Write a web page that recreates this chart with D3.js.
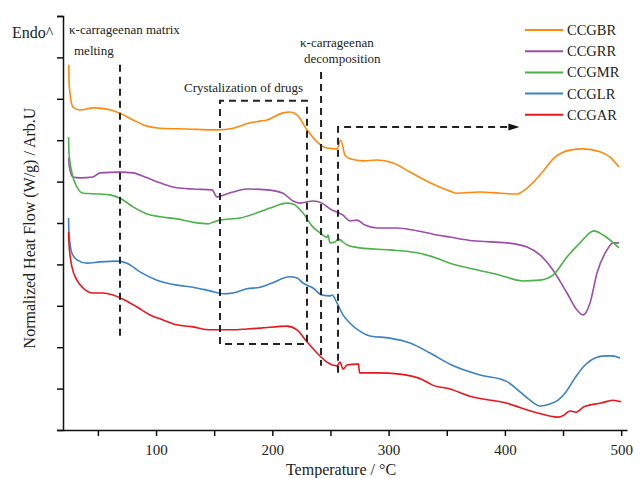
<!DOCTYPE html>
<html>
<head>
<meta charset="utf-8">
<script src="https://cdn.jsdelivr.net/npm/d3@7"></script>
<style>
  body { margin: 0; background: #fff; }
  svg { display: block; }
  text { font-family: "Liberation Serif", "Times New Roman", serif; fill: #222; }
</style>
</head>
<body>
<div id="chart"></div>
<script>
// series names for the legend (top to bottom)
var seriesNames = ["CCGBR", "CCGRR", "CCGMR", "CCGLR", "CCGAR"];

// [temperature °C, normalized heat flow (arb.)]
var ccgbr = [[25.0,8.82],[25.3,8.33],[28.6,7.80],[34.6,7.73],[45.8,7.78],[57.8,7.75],[68.2,7.66],[80.2,7.49],[92.2,7.34],[103.4,7.29],[126.6,7.27],[152.4,7.25],[166.2,7.29],[180.8,7.42],[189.4,7.46],[195.4,7.49],[209.2,7.66],[215.2,7.68],[221.2,7.61],[229.8,7.25],[238.4,6.96],[247.0,6.81],[255.6,6.79],[258.8,7.00],[262.5,6.64],[266.8,6.55],[278.0,6.50],[290.0,6.52],[303.8,6.45],[318.4,6.23],[335.6,5.97],[352.8,5.77],[358.8,5.72],[378.6,5.75],[395.8,5.72],[410.4,5.70],[415.6,5.77],[430.2,6.16],[443.1,6.59],[456.0,6.76],[467.2,6.79],[481.8,6.72],[490.4,6.59],[498.1,6.35]];

var ccgrr = [[25.0,6.59],[25.3,6.38],[28.6,6.11],[34.6,6.09],[45.8,6.11],[51.8,6.21],[69.0,6.23],[80.2,6.21],[92.2,6.09],[103.4,5.97],[118.0,5.85],[131.8,5.82],[148.1,5.80],[152.4,5.63],[155.0,5.65],[166.2,5.75],[178.2,5.82],[195.4,5.80],[209.2,5.72],[217.8,5.53],[223.8,5.48],[235.0,5.53],[242.7,5.48],[249.6,5.34],[260.8,5.19],[266.8,5.05],[272.8,5.07],[279.7,4.95],[290.0,4.88],[307.2,4.88],[321.0,4.83],[338.2,4.73],[352.8,4.66],[372.6,4.57],[401.8,4.52],[419.0,4.42],[430.2,4.23],[441.4,3.86],[453.4,3.31],[462.0,2.90],[467.2,2.78],[473.2,3.07],[479.2,3.79],[487.8,4.35],[493.0,4.52],[498.1,4.52]];

var ccgmr = [[24.8,7.08],[25.1,6.72],[27.7,6.21],[32.0,5.87],[37.2,5.72],[51.8,5.70],[60.4,5.68],[69.0,5.60],[80.2,5.39],[92.2,5.22],[103.4,5.15],[118.0,5.10],[131.8,5.02],[144.7,4.98],[149.0,5.02],[155.0,5.07],[172.2,5.12],[189.4,5.27],[198.0,5.36],[212.6,5.48],[217.8,5.46],[226.4,5.24],[235.0,4.90],[241.0,4.76],[247.0,4.66],[247.9,4.71],[249.6,4.52],[253.9,4.54],[256.5,4.61],[264.2,4.47],[275.4,4.40],[301.2,4.35],[324.4,4.28],[341.6,4.15],[352.8,4.03],[372.6,3.89],[395.8,3.74],[415.6,3.60],[430.2,3.62],[441.4,3.74],[453.4,4.18],[464.6,4.52],[476.6,4.81],[484.4,4.71],[498.1,4.40]];

var ccglr = [[24.8,5.12],[25.1,4.76],[27.7,4.27],[32.0,4.11],[40.6,4.03],[51.8,4.06],[66.4,4.08],[75.0,4.03],[86.2,3.82],[100.8,3.62],[118.0,3.50],[131.8,3.45],[146.4,3.36],[157.6,3.29],[166.2,3.31],[178.2,3.41],[189.4,3.45],[198.0,3.53],[215.2,3.70],[221.2,3.67],[226.4,3.55],[235.0,3.43],[242.7,3.26],[249.6,3.24],[251.3,3.26],[255.6,3.07],[260.8,2.78],[266.8,2.58],[278.0,2.34],[284.0,2.27],[301.2,2.22],[318.4,2.10],[335.6,1.86],[352.8,1.59],[378.6,1.33],[401.0,1.18],[413.0,0.92],[421.6,0.72],[430.2,0.58],[438.8,0.63],[445.7,0.72],[452.5,0.92],[460.3,1.26],[468.9,1.57],[477.5,1.74],[486.1,1.79],[492.1,1.79],[499.0,1.74]];

var ccgar = [[24.8,4.78],[25.1,4.52],[27.7,3.94],[32.0,3.62],[37.2,3.43],[45.8,3.31],[54.4,3.31],[63.0,3.26],[71.6,3.16],[83.6,2.97],[94.8,2.78],[106.0,2.66],[118.0,2.54],[131.8,2.49],[146.4,2.42],[166.2,2.42],[178.2,2.44],[189.4,2.46],[212.6,2.51],[221.2,2.42],[229.8,2.13],[238.4,1.86],[247.0,1.64],[255.6,1.55],[258.2,1.64],[260.8,1.47],[264.2,1.57],[272.8,1.59],[274.1,1.59],[275.0,1.38],[290.0,1.38],[309.8,1.35],[329.6,1.21],[337.3,1.09],[352.8,0.99],[369.1,0.82],[401.0,0.65],[425.9,0.43],[445.7,0.31],[450.8,0.36],[456.0,0.46],[461.1,0.43],[468.0,0.56],[482.6,0.65],[492.9,0.72],[499.8,0.68]];

var seriesData = [ccgbr, ccgrr, ccgmr, ccglr, ccgar];

// x tick values (labels only on the hundreds)
var xTickValues = [50, 100, 150, 200, 250, 300, 350, 400, 450, 500];
var yTickValues = [0, 1, 2, 3, 4, 5, 6, 7, 8, 9, 10];

// annotation guides in data units
var meltLine = [[69.0, 8.82], [69.0, 2.22]];
var crystalBox = [[155.0, 7.95], [229.8, 2.08]];
var decompLine = [[241.9, 8.65], [241.9, 1.55]];
var arrowPath = [[256.5, 1.38], [256.5, 7.32], [403.0, 7.32]];

var colors = ["#ff8a0f", "#9a4ea8", "#4bb249", "#3b82c2", "#e8171d"];

var svgWidth = 642;
var svgHeight = 478;

var svg = d3.select("#chart")
    .append("svg")
    .attr("width", svgWidth)
    .attr("height", svgHeight);

// scales
var xScale = d3.scaleLinear().domain([20, 505]).range([63, 627]);
var yScale = d3.scaleLinear().domain([0, 10]).range([430, 16]);

// axes
var xAxis = d3.axisBottom(xScale)
    .tickValues(xTickValues)
    .tickSize(6)
    .tickSizeOuter(0)
    .tickPadding(8)
    .tickFormat(d => d % 100 === 0 ? d : "");

var yAxis = d3.axisLeft(yScale)
    .tickValues(yTickValues)
    .tickSize(6)
    .tickFormat("");

var gx = svg.append("g")
    .attr("transform", `translate(0, ${yScale(0)})`)
    .call(xAxis);

var gy = svg.append("g")
    .attr("transform", `translate(${xScale(20)}, 0)`)
    .call(yAxis);

[gx, gy].forEach(g => {
    g.selectAll("path, line").attr("stroke", "#111").attr("stroke-width", 1.5);
    g.selectAll("text")
        .attr("font-family", "Liberation Serif, serif")
        .attr("font-size", 15)
        .attr("fill", "#222");
});

// axis titles
svg.append("text")
    .attr("x", 341)
    .attr("y", 475)
    .attr("text-anchor", "middle")
    .attr("font-size", 16)
    .text("Temperature / °C");

svg.append("text")
    .attr("transform", "translate(35, 228) rotate(-90)")
    .attr("text-anchor", "middle")
    .attr("font-size", 16)
    .text("Normalized Heat Flow (W/g) / Arb.U");

svg.append("text")
    .attr("x", 12)
    .attr("y", 38)
    .attr("font-size", 16)
    .text("Endo^");

// lines
var line = d3.line()
    .x(d => xScale(d[0]))
    .y(d => yScale(d[1]))
    .curve(d3.curveMonotoneX);

svg.selectAll(".series")
    .data(seriesData)
    .enter()
    .append("path")
    .attr("class", "series")
    .attr("d", line)
    .attr("fill", "none")
    .attr("stroke", (d, i) => colors[i])
    .attr("stroke-width", 1.6);

// dashed guides
var guide = d3.line().x(d => xScale(d[0])).y(d => yScale(d[1]));
var dashStyle = g => g.attr("fill", "none").attr("stroke", "#222")
    .attr("stroke-width", 2).attr("stroke-dasharray", "7,5");

svg.append("path").attr("d", guide(meltLine)).call(dashStyle);
svg.append("path").attr("d", guide(decompLine)).call(dashStyle);
svg.append("path")
    .attr("d", guide([
        [crystalBox[0][0], crystalBox[1][1]],
        [crystalBox[0][0], crystalBox[0][1]],
        [crystalBox[1][0], crystalBox[0][1]],
        [crystalBox[1][0], crystalBox[1][1]],
        [crystalBox[0][0], crystalBox[1][1]]
    ]))
    .call(dashStyle);
svg.append("path").attr("d", guide(arrowPath)).call(dashStyle);

// arrow head
var tip = arrowPath[arrowPath.length - 1];
var tx = xScale(tip[0]), ty = yScale(tip[1]);
svg.append("path")
    .attr("d", `M${tx},${ty - 3.5}L${tx + 11},${ty}L${tx},${ty + 3.5}Z`)
    .attr("fill", "#111");

// annotation texts
svg.append("text").attr("x", 69).attr("y", 34).attr("font-size", 13).text("κ-carrageenan matrix");
svg.append("text").attr("x", 74).attr("y", 55).attr("font-size", 13).text("melting");
svg.append("text").attr("x", 184).attr("y", 92).attr("font-size", 13).text("Crystalization of drugs");
svg.append("text").attr("x", 300).attr("y", 47).attr("font-size", 13).text("κ-carrageenan");
svg.append("text").attr("x", 304).attr("y", 63).attr("font-size", 13).text("decomposition");

// legend
var legend = svg.selectAll(".legend")
    .data(seriesNames)
    .enter()
    .append("g")
    .attr("class", "legend")
    .attr("transform", (d, i) => `translate(525, ${30 + i * 21.2})`);

legend.append("line")
    .attr("x1", 0).attr("x2", 38)
    .attr("stroke", (d, i) => colors[i])
    .attr("stroke-width", 2);

legend.append("text")
    .attr("x", 42)
    .attr("dy", "0.35em")
    .attr("font-size", 14.5)
    .text(d => d);
</script>
</body>
</html>
